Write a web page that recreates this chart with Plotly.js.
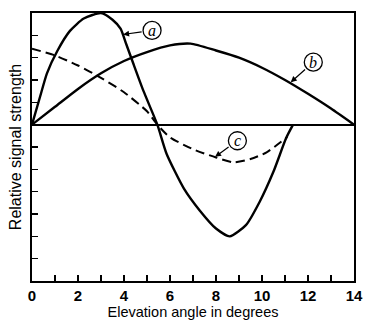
<!DOCTYPE html>
<html>
<head>
<meta charset="utf-8">
<script src="https://cdn.plot.ly/plotly-3.0.1.min.js"></script>
<style>html,body{margin:0;padding:0;background:#fff;}#chart{width:365px;height:320px;}</style>
</head>
<body>
<div id="chart"></div>
<script>
// Curve (a)
var aX = [0, 0.35, 0.65, 1.1, 1.65, 2.25, 3.0, 3.5, 3.85, 4.1, 4.4, 4.85, 5.45, 5.85, 6.6, 7.3, 8.0, 8.6, 9.3, 9.9, 10.5, 11.05, 11.35];
var aY = [0, 1.25, 2.3, 3.3, 4.2, 4.75, 5.0, 4.7, 4.3, 3.6, 2.75, 1.5, 0, -1.3, -2.85, -3.85, -4.65, -5.0, -4.5, -3.45, -2.1, -0.6, 0];
// Curve (b)
var bX = [0, 1, 2, 3, 4, 5, 6, 6.9, 8, 9, 10, 11, 12, 13, 14];
var bY = [0, 0.8, 1.6, 2.3, 2.85, 3.25, 3.55, 3.63, 3.32, 3.0, 2.55, 2.0, 1.38, 0.72, 0];
// Curve (c), dashed
var cX = [0, 1, 2, 3, 4, 5, 5.45, 6.0, 7.0, 8.0, 8.75, 9.5, 10.2, 11.1];
var cY = [3.4, 3.1, 2.65, 2.1, 1.45, 0.6, 0, -0.57, -1.1, -1.47, -1.69, -1.54, -1.24, -0.55];
// Label positions: arrow tip on curve and circled letter
var labels = ['a', 'b', 'c'];
var tipX = [3.96, 11.25, 7.96];
var tipY = [4.04, 1.9, -1.44];
var lblX = [5.22, 12.23, 8.93];
var lblY = [4.22, 2.8, -0.72];
var xTickVals = [0, 2, 4, 6, 8, 10, 12, 14];

var line = {color: '#000', width: 2.4, shape: 'spline', smoothing: 0.6};
var traces = [
  {x: aX, y: aY, mode: 'lines', line: line, name: 'a', hoverinfo: 'skip'},
  {x: bX, y: bY, mode: 'lines', line: line, name: 'b', hoverinfo: 'skip'},
  {x: cX, y: cY, mode: 'lines', line: {color: '#000', width: 2, dash: '9px,5px', shape: 'spline', smoothing: 0.6}, name: 'c', hoverinfo: 'skip'}
];

var shapes = [], annotations = [];
for (var i = 0; i < labels.length; i++) {
  shapes.push({type: 'circle', xref: 'x', yref: 'y', xsizemode: 'pixel', ysizemode: 'pixel',
    xanchor: lblX[i], yanchor: lblY[i], x0: -9, x1: 9, y0: -9, y1: 9,
    line: {color: '#000', width: 1.3}, fillcolor: 'rgba(0,0,0,0)'});
  annotations.push({x: lblX[i], y: lblY[i], xref: 'x', yref: 'y', text: '<i>' + labels[i] + '</i>',
    showarrow: false, font: {family: 'Liberation Serif', size: 16, color: '#000'}});
  annotations.push({x: tipX[i], y: tipY[i], xref: 'x', yref: 'y', text: '',
    showarrow: true, axref: 'x', ayref: 'y', ax: lblX[i], ay: lblY[i],
    arrowhead: 2, arrowsize: 1, arrowwidth: 1.2, arrowcolor: '#000', startstandoff: 9});
}

var layout = {
  width: 365, height: 320,
  margin: {l: 32, r: 11, t: 13, b: 39},
  paper_bgcolor: '#fff', plot_bgcolor: '#fff',
  showlegend: false,
  font: {family: 'Liberation Sans', color: '#000'},
  xaxis: {
    range: [0, 14], tickvals: xTickVals, ticktext: xTickVals.map(String),
    ticks: 'inside', ticklen: 6, tickwidth: 1.5, tickcolor: '#000',
    minor: {dtick: 1, ticks: 'inside', ticklen: 6, tickwidth: 1.5, tickcolor: '#000'},
    showgrid: false, zeroline: false, showline: true, mirror: true, linecolor: '#000', linewidth: 2,
    tickfont: {size: 15, weight: 'bold'},
    title: {text: 'Elevation angle in degrees', font: {size: 14.5}, standoff: 0}
  },
  yaxis: {
    range: [-7, 5], dtick: 1, showticklabels: false,
    ticks: 'inside', ticklen: 6, tickwidth: 1.5, tickcolor: '#000',
    showgrid: false, zeroline: true, zerolinecolor: '#000', zerolinewidth: 2,
    showline: true, mirror: true, linecolor: '#000', linewidth: 2,
    title: {text: 'Relative signal strength', font: {size: 16}, standoff: 4}
  },
  shapes: shapes,
  annotations: annotations
};

Plotly.newPlot('chart', traces, layout, {staticPlot: true, displayModeBar: false});
</script>
</body>
</html>
